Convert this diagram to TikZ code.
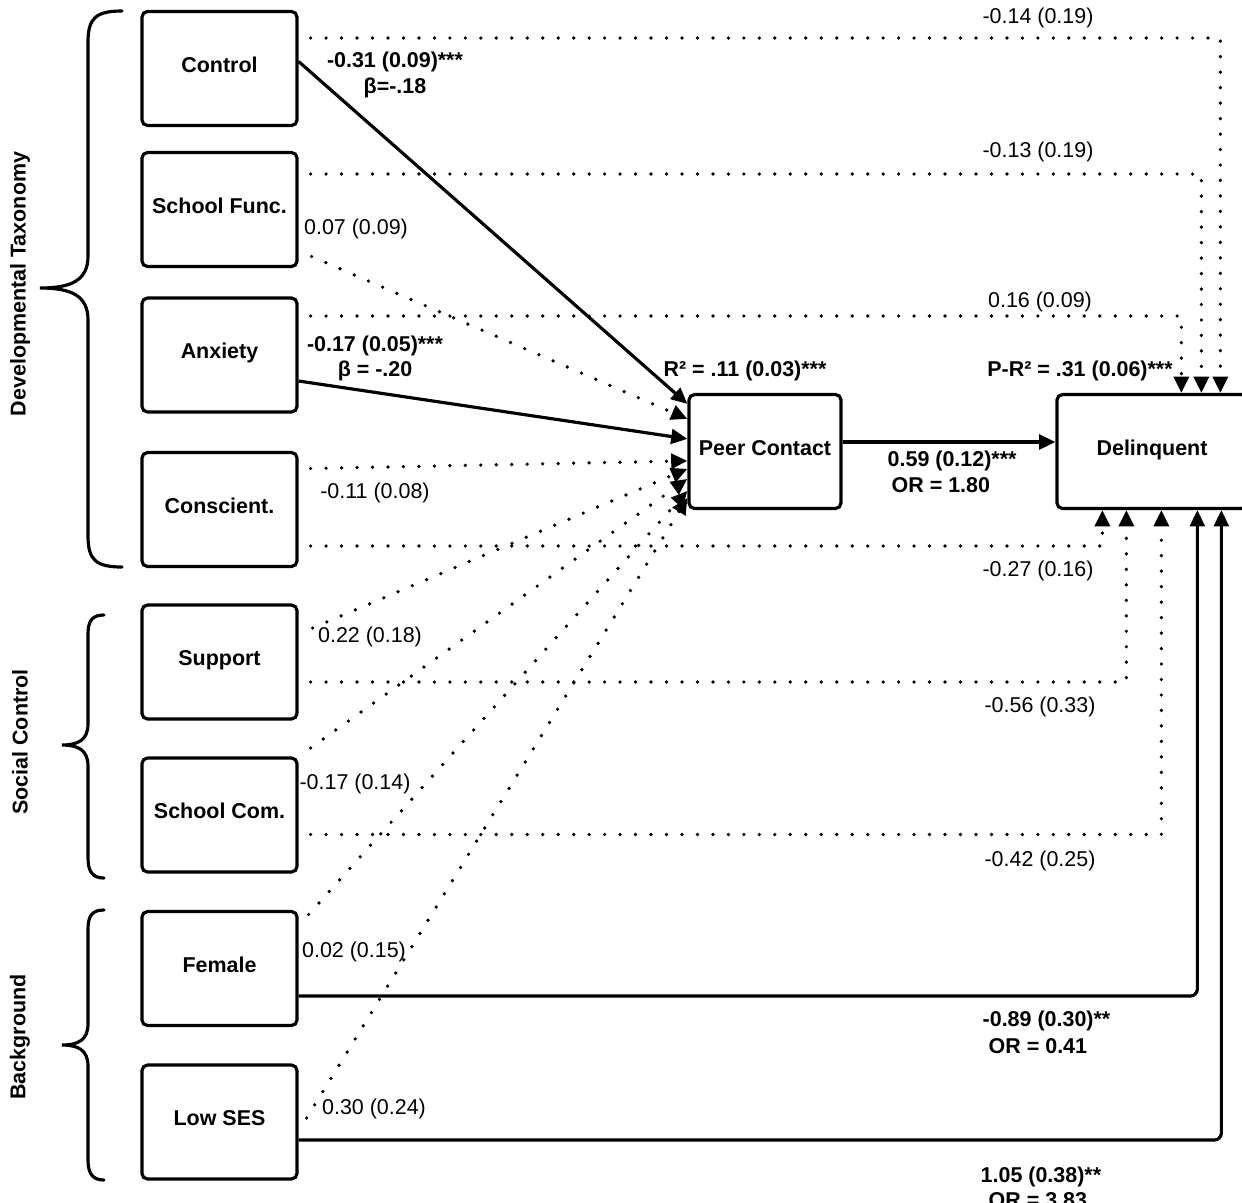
\documentclass[tikz,border=0pt]{standalone}
\usepackage{fontspec}
\setmainfont{Liberation Sans}
\usetikzlibrary{arrows.meta,calc}
\newcommand{\lblfont}{\fontsize{6.1}{7.4}\selectfont}
\begin{document}
\begin{tikzpicture}[x=0.01cm,y=-0.01cm,
  font=\lblfont,
  varbox/.style={draw, line width=0.9pt, rounded corners=1.6pt, minimum width=1.55cm,
    minimum height=1.14cm, inner sep=0pt, text height=4.5pt, text depth=2.4pt,
    font=\lblfont\bfseries},
  solidarr/.style={line width=0.9pt, -{Triangle[width=4.2pt,length=4.6pt]}},
  dotarr/.style={line width=1.05pt, line cap=round, dash pattern=on 0pt off 4.4pt,
    -{Triangle[width=4.2pt,length=4.6pt]}},
  coef/.style={inner sep=0pt},
  bcoef/.style={inner sep=0pt, font=\lblfont\bfseries},
  brace/.style={line width=0.9pt, line cap=round},
  grp/.style={rotate=90, inner sep=0pt, font=\lblfont\bfseries}
]
\useasboundingbox (0,0) rectangle (1242,1202);

% predictor boxes
\node[varbox] (ctl) at (219.5,68.5)  {Control};
\node[varbox] (sf)  at (219.5,209.5) {School Func.};
\node[varbox] (anx) at (219.5,355)   {Anxiety};
\node[varbox] (con) at (219.5,509.5) {Conscient.};
\node[varbox] (sup) at (219.5,662)   {Support};
\node[varbox] (scm) at (219.5,815)   {School Com.};
\node[varbox] (fem) at (219.5,968.5) {Female};
\node[varbox] (ses) at (219.5,1122)  {Low SES};

% mediator and outcome
\node[varbox, minimum width=1.52cm] (pc) at (765,451.5) {Peer Contact};
\node[varbox, minimum width=1.90cm] (del) at (1152,451.5) {Delinquent};

% paths into Peer Contact
\draw[solidarr] ($(ctl.east)+(0,-7)$) -- ($(pc.north west)+(0,11)$);
\draw[dotarr]   ($(sf.east)+(13,47)$) -- ($(pc.north west)+(0,26)$);
\draw[solidarr] ($(anx.east)+(0,26)$) -- ($(pc.north west)+(0,46)$);
\draw[dotarr]   ($(con.east)+(12,-41)$) -- ($(pc.north west)+(0,68)$);
\draw[dotarr]   ($(sup.east)+(14,-34)$) -- ($(pc.north west)+(0,76)$);
\draw[dotarr]   ($(scm.east)+(12,-67)$) -- ($(pc.north west)+(0,86)$);
\draw[dotarr]   ($(fem.east)+(10,-54)$) -- ($(pc.north west)+(0,98)$);
\draw[dotarr]   ($(ses.east)+(8,-4)$) -- ($(pc.north west)+(0,105)$);

% mediator to outcome
\draw[solidarr] ($(pc.east)+(0,-9.5)$) -- ($(del.west)+(0,-9.5)$);

% direct paths into Delinquent from above
\draw[dotarr] ($(ctl.east)+(12,-30.5)$) -| ($(del.north west)+(165,0)$);
\draw[dotarr] ($(sf.east)+(12,-35.5)$)  -| ($(del.north west)+(146,0)$);
\draw[dotarr] ($(anx.east)+(12,-39)$)   -| ($(del.north west)+(126,0)$);

% direct paths into Delinquent from below
\draw[dotarr] ($(con.east)+(12,36.5)$) -| ($(del.south west)+(47,0)$);
\draw[dotarr] ($(sup.east)+(12,20)$)   -| ($(del.south west)+(71,0)$);
\draw[dotarr] ($(scm.east)+(12,19.5)$) -| ($(del.south west)+(106,0)$);
\draw[solidarr, rounded corners=2pt] ($(fem.east)+(0,27.5)$) -| ($(del.south west)+(142,0)$);
\draw[solidarr, rounded corners=2pt] ($(ses.east)+(0,18)$)   -| ($(del.south west)+(166,0)$);

% coefficients
\node[coef]  (l1)  at (1038,18)  {-0.14 (0.19)};
\node[bcoef] (l2)  at (395,62)   {-0.31 (0.09)***};
\node[bcoef] (l2b) at (395,88)   {β=-.18};
\node[coef]  (l3)  at (1038,152) {-0.13 (0.19)};
\node[coef]  (l4)  at (356,229)  {0.07 (0.09)};
\node[coef]  (l5)  at (1040,302) {0.16 (0.09)};
\node[bcoef] (l6)  at (375,346)  {-0.17 (0.05)***};
\node[bcoef] (l6b) at (375,371)  {β = -.20};
\node[bcoef] (r1)  at (745,371)  {R² = .11 (0.03)***};
\node[bcoef] (r2)  at (1080,371) {P-R² = .31 (0.06)***};
\node[bcoef, anchor=west] (l7)  at (887,461) {0.59 (0.12)***};
\node[bcoef, anchor=west] (l7b) at (891,485) {OR = 1.80};
\node[coef]  (l8)  at (375,493)  {-0.11 (0.08)};
\node[coef]  (l9)  at (1038,571) {-0.27 (0.16)};
\node[coef]  (l10) at (370,637)  {0.22 (0.18)};
\node[coef]  (l11) at (1040,707) {-0.56 (0.33)};
\node[coef]  (l12) at (355,784)  {-0.17 (0.14)};
\node[coef]  (l13) at (1040,861) {-0.42 (0.25)};
\node[coef]  (l14) at (354,952)  {0.02 (0.15)};
\node[bcoef, anchor=west] (l15)  at (982,1021) {-0.89 (0.30)**};
\node[bcoef, anchor=west] (l15b) at (988,1046) {OR = 0.41};
\node[coef]  (l16) at (374,1109) {0.30 (0.24)};
\node[bcoef, anchor=west] (l17)  at (980,1177) {1.05 (0.38)**};
\node[bcoef, anchor=west] (l17b) at (988,1200) {OR = 3.83};

% group braces
\draw[brace] (122,11) .. controls (96,11) and (88,18) .. (88,42) -- (88,256)
  .. controls (88,280) and (72,288) .. (40,288)
  .. controls (72,288) and (88,296) .. (88,320) -- (88,536)
  .. controls (88,560) and (96,567) .. (122,567);
\draw[brace] (104,615) .. controls (93,615) and (88,620) .. (88,634) -- (88,724)
  .. controls (88,740) and (78,745) .. (62,745)
  .. controls (78,745) and (88,750) .. (88,766) -- (88,858)
  .. controls (88,872) and (93,878) .. (104,878);
\draw[brace] (104,910) .. controls (93,910) and (88,915) .. (88,929) -- (88,1024)
  .. controls (88,1040) and (78,1045) .. (62,1045)
  .. controls (78,1045) and (88,1050) .. (88,1066) -- (88,1160)
  .. controls (88,1174) and (93,1180) .. (104,1180);

% group labels
\node[grp] (g1) at (20,284)  {Developmental Taxonomy};
\node[grp] (g2) at (20,742)  {Social Control};
\node[grp] (g3) at (20,1037) {Background};
\end{tikzpicture}
\end{document}
